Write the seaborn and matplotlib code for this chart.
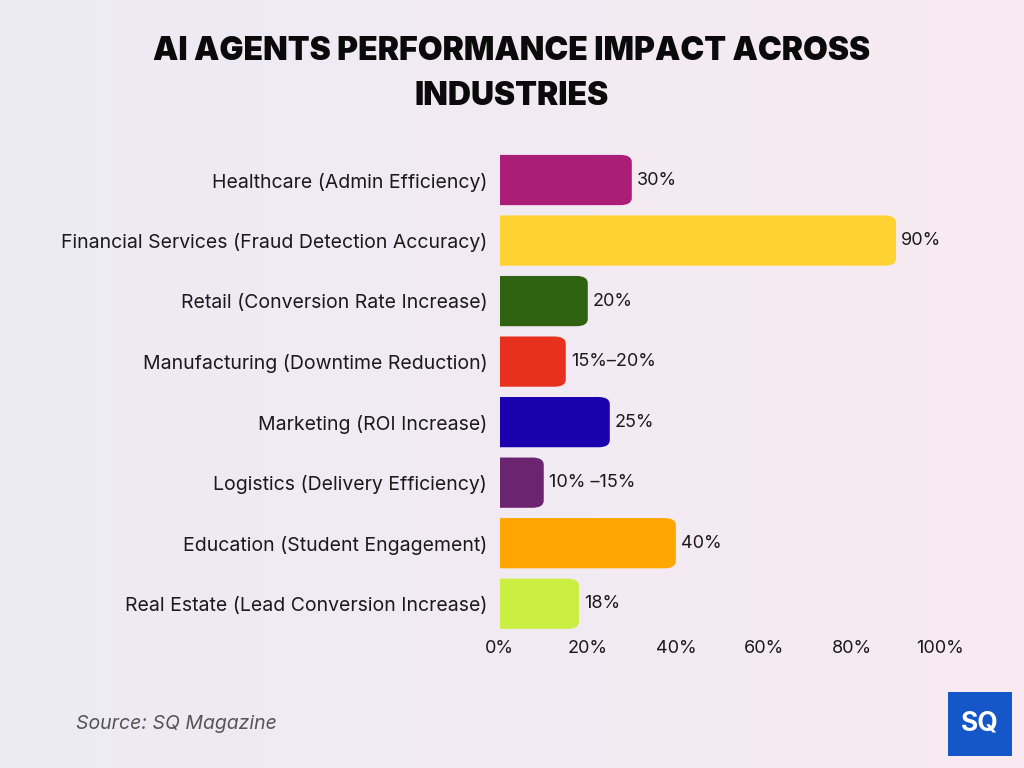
import numpy as np
import pandas as pd
import matplotlib.pyplot as plt
import seaborn as sns
from matplotlib.patches import FancyBboxPatch

# data
industries = [
    'Healthcare (Admin Efficiency)',
    'Financial Services (Fraud Detection Accuracy)',
    'Retail (Conversion Rate Increase)',
    'Manufacturing (Downtime Reduction)',
    'Marketing (ROI Increase)',
    'Logistics (Delivery Efficiency)',
    'Education (Student Engagement)',
    'Real Estate (Lead Conversion Increase)',
]
values = [30, 90, 20, 15, 25, 10, 40, 18]
value_labels = ['30%', '90%', '20%', '15%\u201320%', '25%', '10% \u201315%', '40%', '18%']
bar_colors = ['#AA1E78', '#FFD231', '#306311', '#E8301F', '#1B00AE', '#6B2570', '#FFA600', '#CBEE42']
x_ticks = [0, 20, 40, 60, 80, 100]

df = pd.DataFrame({'industry': industries, 'value': values})

sns.set_theme(style='white')
plt.rcParams['font.family'] = ['Inter', 'DejaVu Sans']

fig = plt.figure(figsize=(10.24, 7.68), dpi=100)

# gradient background
bg = fig.add_axes([0, 0, 1, 1], zorder=-10)
grad = np.linspace(0, 1, 256).reshape(1, -1)
c1 = np.array([0.925, 0.922, 0.957])
c2 = np.array([0.973, 0.918, 0.945])
img = c1[None, None, :] * (1 - grad[..., None]) + c2[None, None, :] * grad[..., None]
bg.imshow(img, aspect='auto', extent=[0, 1, 0, 1])
bg.axis('off')

ax = fig.add_axes([0.488, 0.1745, 0.43, 0.6305])
ax.set_facecolor('none')
sns.barplot(data=df, x='value', y='industry', hue='industry', palette=bar_colors,
            legend=False, width=0.83, ax=ax, saturation=1)

# rounded right ends
orig = list(ax.patches)
for p in orig:
    x0, y0 = p.get_x(), p.get_y()
    w, h = p.get_width(), p.get_height()
    fb = FancyBboxPatch((x0 - 4, y0), w + 4, h,
                        boxstyle='round,pad=0,rounding_size=2.6',
                        mutation_aspect=0.045,
                        facecolor=p.get_facecolor(), edgecolor='none')
    p.set_visible(False)
    ax.add_patch(fb)

for p, lab in zip(orig, value_labels):
    ax.text(p.get_x() + p.get_width() + 1.2, p.get_y() + p.get_height() / 2, lab,
            va='center', ha='left', fontsize=13, color='#1a1a1a')

ax.set_xlim(0, 100)
ax.set_ylim(7.5, -0.5)
ax.set_xticks(x_ticks)
ax.set_xticklabels([f'{t}%' for t in x_ticks], fontsize=13, color='#1a1a1a')
ax.tick_params(axis='y', labelsize=14, labelcolor='#1a1a1a', pad=9, length=0)
ax.tick_params(axis='x', pad=4, length=0)
ax.set_xlabel('')
ax.set_ylabel('')
sns.despine(ax=ax, left=True, bottom=True)
ax.grid(False)

fig.text(0.5, 0.904, 'AI AGENTS PERFORMANCE IMPACT ACROSS\nINDUSTRIES', ha='center', va='center',
         fontsize=23, fontweight='black', color='#0a0a0a', linespacing=1.6)

fig.text(0.074, 0.057, 'Source: SQ Magazine', fontsize=14, style='italic', color='#555555',
         ha='left', va='center')

# logo
logo = fig.add_axes([948 / 1024, 12 / 768, 64 / 1024, 64 / 768])
logo.set_facecolor('#1556C8')
logo.set_xticks([])
logo.set_yticks([])
for s in logo.spines.values():
    s.set_visible(False)
logo.text(0.5, 0.5, 'SQ', color='white', fontsize=19, fontweight='bold', ha='center', va='center',
          transform=logo.transAxes)

fig.savefig('out.png', dpi=100)
